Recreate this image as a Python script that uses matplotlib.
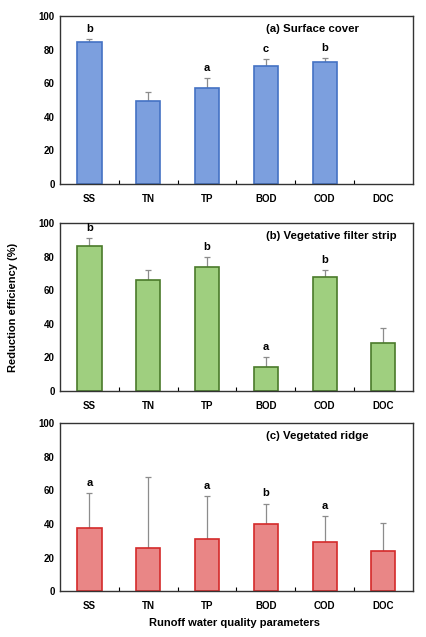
import matplotlib
matplotlib.use("Agg")
import matplotlib.pyplot as plt
import numpy as np

categories = ["SS", "TN", "TP", "BOD", "COD", "DOC"]

surface_mean = [84.4, 49.4, 57.1, 70.5, 72.5, np.nan]
surface_err = [1.6, 5.1, 6.1, 3.6, 2.2, np.nan]
surface_letters = ["b", "", "a", "c", "b", ""]

vfs_mean = [86.3, 66.1, 74.1, 14.5, 67.7, 28.7]
vfs_err = [5.0, 6.0, 5.7, 5.9, 4.2, 8.9]
vfs_letters = ["b", "", "b", "a", "b", ""]

ridge_mean = [37.6, 25.7, 30.9, 40.0, 29.1, 24.0]
ridge_err = [20.6, 42.2, 25.7, 12.1, 15.5, 16.6]
ridge_letters = ["a", "", "a", "b", "a", ""]

panels = [
    ("(a) Surface cover", surface_mean, surface_err, surface_letters, "#7c9fde", "#4472c4"),
    ("(b) Vegetative filter strip", vfs_mean, vfs_err, vfs_letters, "#9fcf7f", "#4a7a2a"),
    ("(c) Vegetated ridge", ridge_mean, ridge_err, ridge_letters, "#e98686", "#d42a2a"),
]

plt.rcParams['font.family'] = ['Liberation Sans', 'DejaVu Sans']
plt.rcParams['font.weight'] = 'bold'

fig = plt.figure(figsize=(4.26, 6.37), dpi=100)
boxes = [(0.141, 0.711, 0.828, 0.264), (0.141, 0.386, 0.828, 0.264), (0.141, 0.072, 0.828, 0.264)]

x = np.arange(len(categories))
for (title, mean, err, letters, fc, ec), box in zip(panels, boxes):
    ax = fig.add_axes(box)
    m = np.array(mean, dtype=float)
    e = np.array(err, dtype=float)
    ok = ~np.isnan(m)
    ax.bar(x[ok], m[ok], width=0.41, color=fc, edgecolor=ec, linewidth=1.2, zorder=2)
    ax.errorbar(x[ok], m[ok], yerr=[np.zeros(ok.sum()), e[ok]], fmt="none", ecolor="#8c8c8c",
                elinewidth=0.9, capsize=2.5, capthick=0.9, zorder=1)
    for xi, mi, ei, lt in zip(x, m, e, letters):
        if lt:
            ax.text(xi, mi + ei + 3, lt, ha="center", va="bottom", fontsize=8, fontweight="bold")
    ax.set_xlim(-0.5, 5.5)
    ax.set_ylim(0, 100)
    ax.set_yticks([0, 20, 40, 60, 80, 100])
    ax.set_xticks(x)
    ax.set_xticklabels(categories)
    ax.set_xticks(np.arange(0.5, 5.5, 1.0), minor=True)
    ax.tick_params(axis="x", which="major", length=0, pad=7, labelsize=7)
    ax.tick_params(axis="x", which="minor", length=3, direction="in", width=0.8)
    ax.tick_params(axis="y", length=0, labelsize=7, pad=4)
    for lbl in ax.get_xticklabels() + ax.get_yticklabels():
        lbl.set_fontweight("bold")
    for s in ax.spines.values():
        s.set_linewidth(1.0)
        s.set_color("#333333")
    ax.text(0.585, 0.925, title, transform=ax.transAxes, ha="left", va="center",
            fontsize=8.2, fontweight="bold")

fig.text(0.03, 0.518, "Reduction efficiency (%)", rotation=90, ha="center", va="center",
         fontsize=8, fontweight="bold")
fig.text(0.55, 0.022, "Runoff water quality parameters", ha="center", va="center",
         fontsize=8, fontweight="bold")

fig.savefig("out.png", dpi=100)
